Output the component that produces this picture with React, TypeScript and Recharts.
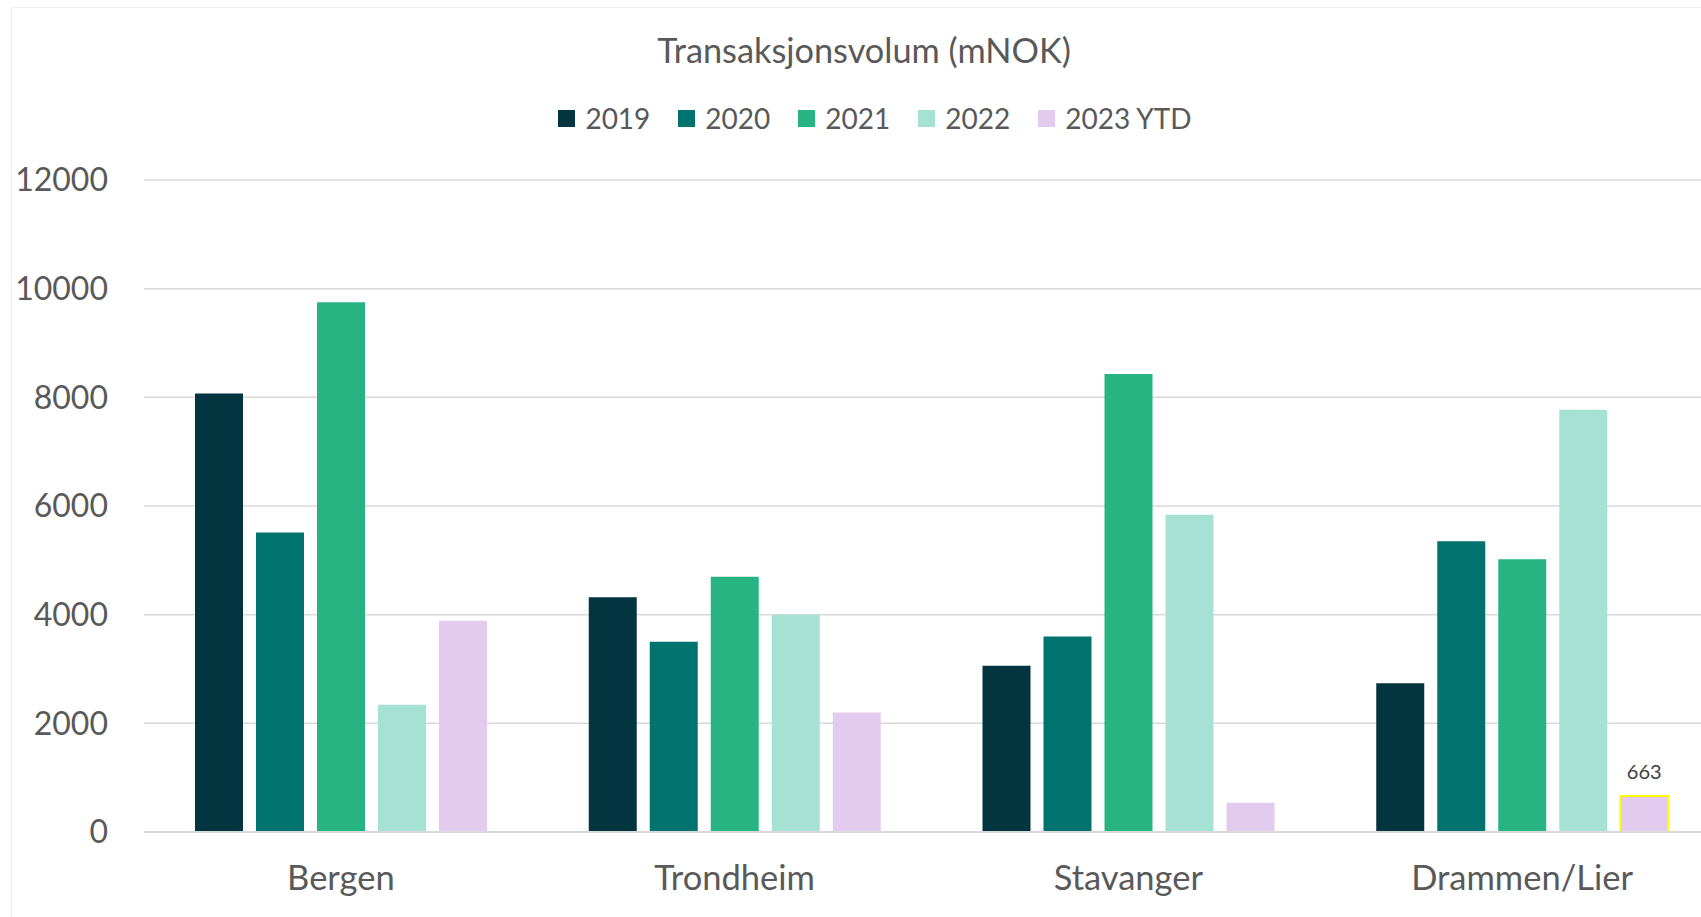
import React from 'react';
import { BarChart, Bar, XAxis, YAxis, CartesianGrid, Legend, Cell, LabelList } from 'recharts';

const categories = ['Bergen', 'Trondheim', 'Stavanger', 'Drammen/Lier'];
const seriesNames = ['2019', '2020', '2021', '2022', '2023 YTD'];
const s2019 = [8070, 4320, 3060, 2740];
const s2020 = [5510, 3500, 3600, 5350];
const s2021 = [9750, 4700, 8430, 5020];
const s2022 = [2340, 4000, 5840, 7770];
const s2023 = [3890, 2200, 540, 663];
const yTicks = [0, 2000, 4000, 6000, 8000, 10000, 12000];
const colors = ['#023540', '#00736F', '#28B383', '#A6E2D3', '#E3CAEF'];
const title = 'Transaksjonsvolum (mNOK)';
const highlightedIndex = 3;

const seriesValues = [s2019, s2020, s2021, s2022, s2023];
const keys = ['y2019', 'y2020', 'y2021', 'y2022', 'y2023'];

const data = categories.map((c, i) => {
  const row: any = { name: c };
  keys.forEach((k, j) => {
    row[k] = seriesValues[j][i];
  });
  return row;
});

const FONT = 'Lato, "Open Sans", sans-serif';
const TEXT = '#595959';

const renderLegend = (props: any) => {
  const payload = props.payload || [];
  return (
    <div style={{ display: 'flex', justifyContent: 'center', alignItems: 'center', fontFamily: FONT, paddingLeft: 14 }}>
      {payload.map((p: any, i: number) => (
        <div key={i} style={{ display: 'flex', alignItems: 'center', marginRight: i < payload.length - 1 ? 28 : 0 }}>
          <div style={{ width: 17, height: 17, background: p.color, marginRight: 10 }} />
          <span style={{ fontSize: 28, color: TEXT, lineHeight: 1 }}>{p.value}</span>
        </div>
      ))}
    </div>
  );
};

const renderHighlightLabel = (props: any) => {
  const { x, y, width, index, value } = props;
  if (index !== highlightedIndex) return null;
  return (
    <text x={x + width / 2} y={y - 17} textAnchor="middle" fontSize={20} fill="#404040" fontFamily={FONT}>
      {value}
    </text>
  );
};

export default function App() {
  return (
    <div style={{ position: 'fixed', left: 0, top: 0, width: 1701, height: 917, overflow: 'hidden', background: '#fff' }}>
      <div style={{ position: 'absolute', left: 11, top: 7, width: 1714, height: 920, border: '1px solid #efefef', boxSizing: 'border-box' }} />
      <div style={{ position: 'absolute', left: 11, top: 7, width: 1714, height: 910 }}>
        <div
          style={{
            position: 'absolute',
            left: -4,
            top: 26,
            width: 1714,
            textAlign: 'center',
            fontFamily: FONT,
            fontSize: 34.3,
            lineHeight: 1,
            color: TEXT,
          }}
        >
          {title}
        </div>
        <BarChart
          width={1714}
          height={910}
          data={data}
          margin={{ top: 173, right: 6, bottom: 0, left: 0 }}
          barGap={13}
          barCategoryGap={51}
        >
          <CartesianGrid horizontal vertical={false} stroke="#D9D9D9" strokeWidth={1.5} />
          <XAxis
            dataKey="name"
            height={85}
            tickLine={false}
            axisLine={{ stroke: '#D9D9D9', strokeWidth: 2 }}
            tickSize={0}
            tickMargin={34}
            tick={{ fill: TEXT, fontSize: 34.5, fontFamily: FONT }}
          />
          <YAxis
            width={133}
            domain={[0, 12000]}
            ticks={yTicks}
            interval={0}
            axisLine={false}
            tickLine={false}
            tickSize={0}
            tickMargin={36}
            tick={{ fill: TEXT, fontSize: 32, fontFamily: FONT }}
          />
          <Legend
            verticalAlign="middle"
            align="center"
            layout="horizontal"
            content={renderLegend}
            wrapperStyle={{ top: 97, left: 0, width: 1714, height: 24 }}
          />
          {keys.map((k, j) => (
            <Bar key={k} dataKey={k} name={seriesNames[j]} fill={colors[j]} barSize={48} isAnimationActive={false}>
              {j === 4 &&
                data.map((_, i) => (
                  <Cell
                    key={i}
                    fill={colors[j]}
                    stroke={i === highlightedIndex ? '#FFFF00' : 'none'}
                    strokeWidth={i === highlightedIndex ? 2 : 0}
                  />
                ))}
              {j === 4 && <LabelList dataKey={k} content={renderHighlightLabel} />}
            </Bar>
          ))}
        </BarChart>
      </div>
    </div>
  );
}
